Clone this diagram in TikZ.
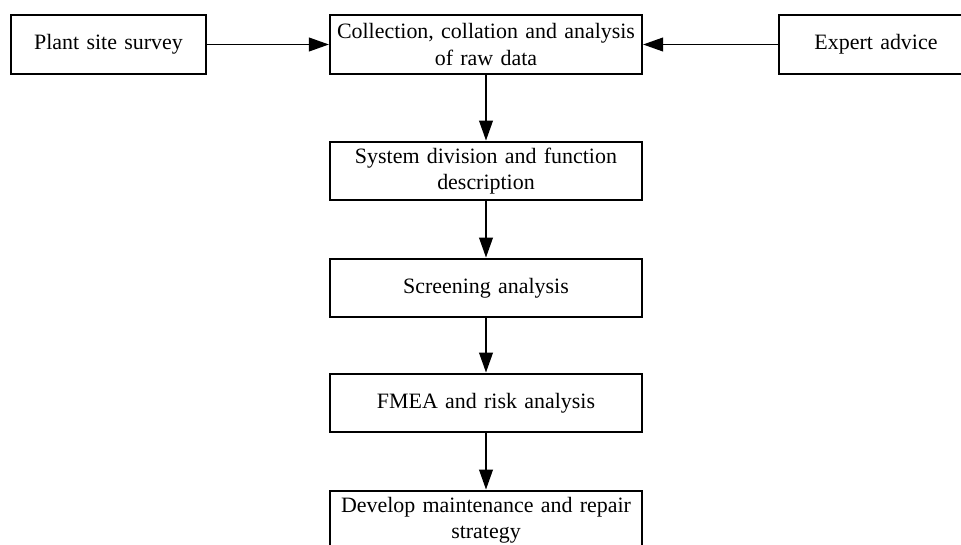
\documentclass[tikz,border=0pt]{standalone}
\usepackage{fontspec}
\setmainfont{Liberation Serif}
\usepackage{tikz}
\usetikzlibrary{arrows.meta}

\begin{document}
\begin{tikzpicture}[x=0.025cm,y=-0.025cm,
  stepbox/.style={draw,line width=1.4pt,align=center,text width=7.6cm,
    inner xsep=0.1cm,minimum height=1.47cm,font=\fontsize{15.6}{18.5}\selectfont},
  sidebox/.style={stepbox,text width=4.67cm},
  flow/.style={line width=1.4pt,-{Triangle[length=0.5cm,width=0.34cm]}}]
\useasboundingbox (0,0) rectangle (961,545);
\clip (0,0) rectangle (961,545);
%  Top row: inputs and raw data
\node[sidebox] (survey) at (108.5,44.5) {Plant site survey};
\node[stepbox] (collect) at (486,44.5) {Collection, collation and analysis\\of raw data};
\node[sidebox] (expert) at (876,44.5) {Expert advice};
%  Steps down the middle
\node[stepbox] (division) at (486,171) {System division and function\\description};
\node[stepbox] (screen) at (486,288) {Screening analysis};
\node[stepbox] (fmea) at (486,403) {FMEA and risk analysis};
\node[stepbox] (strategy) at (486,520) {Develop maintenance and repair\\strategy};
%  Arrows
\draw[flow] (survey) -- (collect);
\draw[flow] (expert) -- (collect);
\draw[flow] (collect) -- (division);
\draw[flow] (division) -- (screen);
\draw[flow] (screen) -- (fmea);
\draw[flow] (fmea) -- (strategy);
\end{tikzpicture}
\end{document}
